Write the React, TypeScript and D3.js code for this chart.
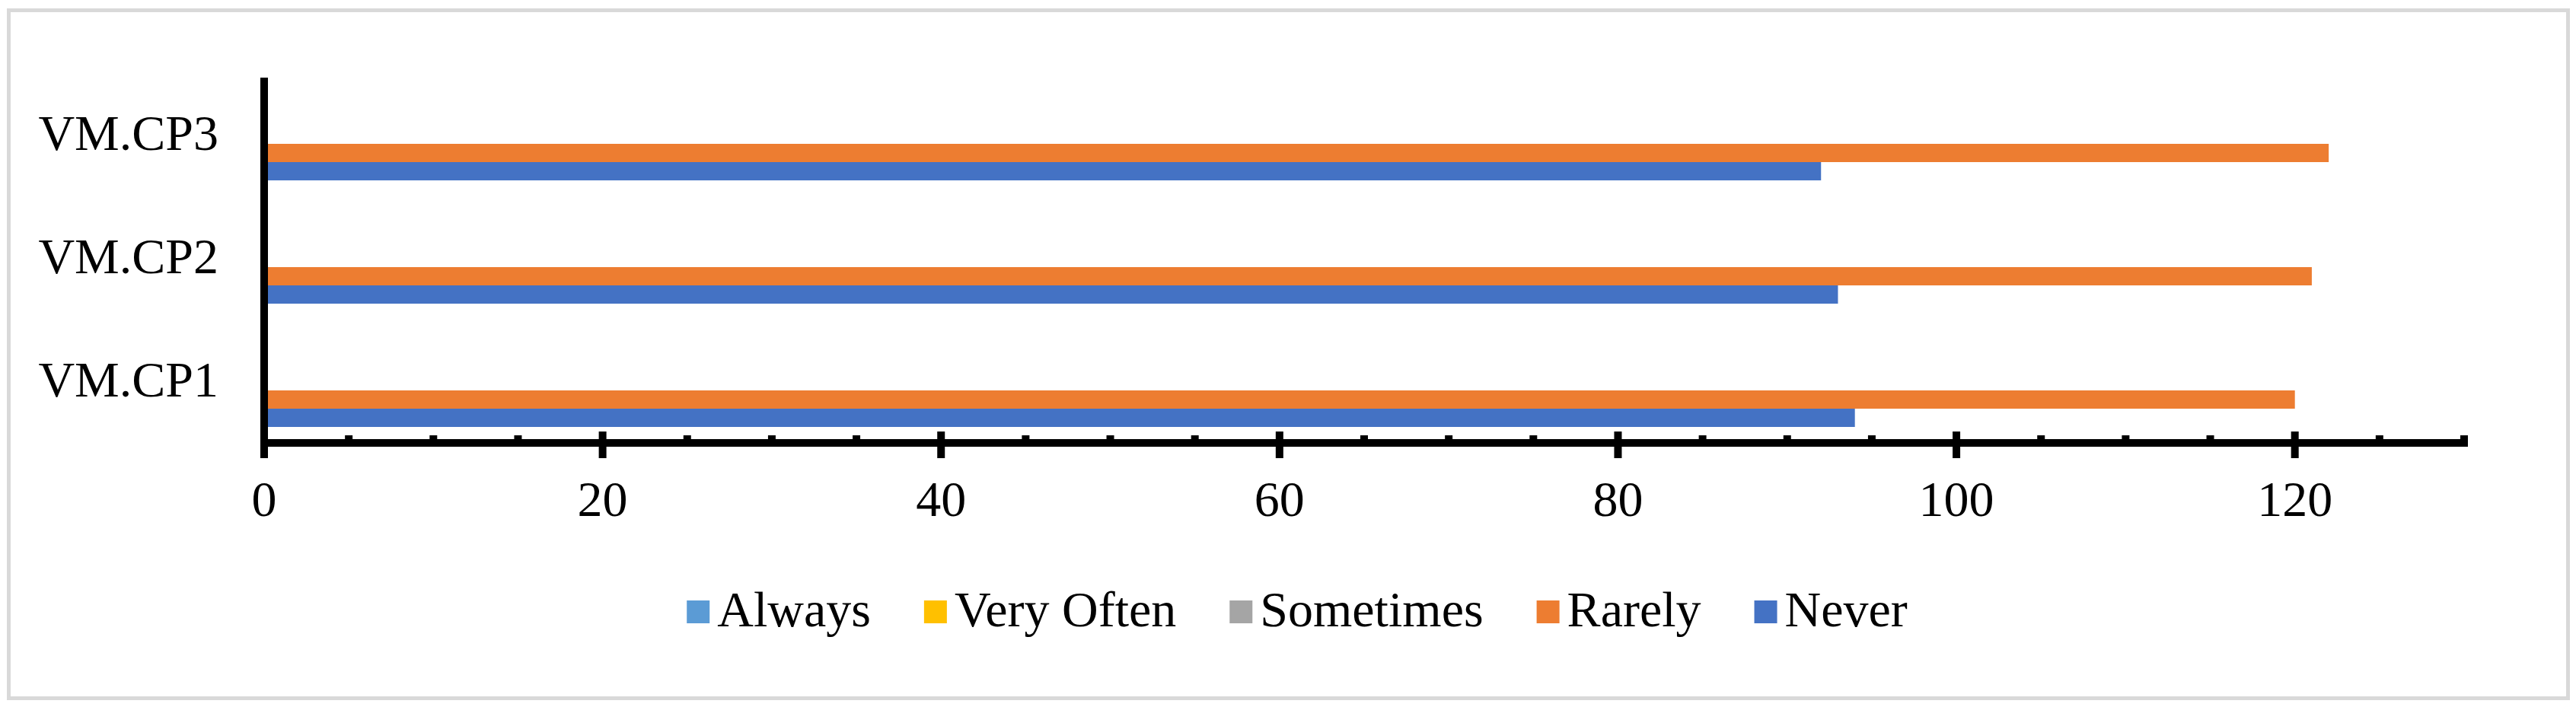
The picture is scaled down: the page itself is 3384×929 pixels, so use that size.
import React, { useEffect, useRef } from "react";
import * as d3 from "d3";

const categories = ["VM.CP1", "VM.CP2", "VM.CP3"];
const never = [94, 93, 92];
const rarely = [120, 121, 122];
const sometimes = [0, 0, 0];
const veryOften = [0, 0, 0];
const always = [0, 0, 0];
const seriesNames = ["Always", "Very Often", "Sometimes", "Rarely", "Never"];
const seriesColors = ["#5b9bd5", "#ffc000", "#a5a5a5", "#ed7d31", "#4472c4"];
const xTicks = [0, 20, 40, 60, 80, 100, 120];
const xMax = 130;

const W = 3384;
const H = 929;
const FONT = "'Liberation Serif', 'Times New Roman', serif";

export default function App() {
  const ref = useRef<SVGSVGElement | null>(null);

  useEffect(() => {
    document.body.style.margin = "0";
    const svg = d3.select(ref.current);
    svg.selectAll("*").remove();

    const values: Record<string, number[]> = {
      Always: always,
      "Very Often": veryOften,
      Sometimes: sometimes,
      Rarely: rarely,
      Never: never,
    };
    const color = d3.scaleOrdinal<string, string>().domain(seriesNames).range(seriesColors);

    const plotTop = 96,
      plotBottom = 582,
      plotLeft = 347;

    const x = d3.scaleLinear().domain([0, xMax]).range([plotLeft, 3237]);
    const y = d3
      .scaleBand<string>()
      .domain(categories.slice().reverse())
      .range([plotTop, plotBottom])
      .padding(0);
    const inner = d3
      .scaleBand<string>()
      .domain(seriesNames)
      .range([0, y.bandwidth()])
      .paddingInner(0)
      .paddingOuter(0.875);

    // chart border
    svg
      .append("rect")
      .attr("x", 11.5)
      .attr("y", 13.5)
      .attr("width", 3362)
      .attr("height", 904)
      .attr("fill", "#fff")
      .attr("stroke", "#d9d9d9")
      .attr("stroke-width", 5);

    // bars
    const rows = categories.flatMap((c, i) =>
      seriesNames.map((s) => ({ cat: c, series: s, value: values[s][i] }))
    );
    svg
      .append("g")
      .selectAll("rect")
      .data(rows.filter((d) => d.value > 0))
      .enter()
      .append("rect")
      .attr("x", x(0))
      .attr("y", (d) => (y(d.cat) as number) + (inner(d.series) as number))
      .attr("width", (d) => x(d.value) - x(0))
      .attr("height", inner.bandwidth())
      .attr("fill", (d) => color(d.series));

    // x axis
    const axisY = plotBottom;
    const gx = svg.append("g");
    gx.append("line")
      .attr("x1", x(0) - 5)
      .attr("x2", x(xMax) + 5)
      .attr("y1", axisY)
      .attr("y2", axisY)
      .attr("stroke", "#000")
      .attr("stroke-width", 10);
    const minor = d3.range(0, xMax + 1, 5).filter((v) => v % 20 !== 0);
    gx.selectAll("line.minor")
      .data(minor)
      .enter()
      .append("line")
      .attr("class", "minor")
      .attr("x1", (d) => x(d))
      .attr("x2", (d) => x(d))
      .attr("y1", axisY - 10)
      .attr("y2", axisY)
      .attr("stroke", "#000")
      .attr("stroke-width", 10);
    gx.selectAll("line.major")
      .data(xTicks)
      .enter()
      .append("line")
      .attr("class", "major")
      .attr("x1", (d) => x(d))
      .attr("x2", (d) => x(d))
      .attr("y1", axisY - 15)
      .attr("y2", axisY + 20)
      .attr("stroke", "#000")
      .attr("stroke-width", 10);
    gx.selectAll("text")
      .data(xTicks)
      .enter()
      .append("text")
      .attr("x", (d) => x(d))
      .attr("y", 678)
      .attr("text-anchor", "middle")
      .attr("font-family", FONT)
      .attr("font-size", 66)
      .attr("fill", "#000")
      .text((d) => String(d));

    // y axis
    const gy = svg.append("g");
    gy.append("line")
      .attr("x1", plotLeft)
      .attr("x2", plotLeft)
      .attr("y1", 102)
      .attr("y2", 602)
      .attr("stroke", "#000")
      .attr("stroke-width", 10);
    gy.selectAll("text")
      .data(categories)
      .enter()
      .append("text")
      .attr("x", 287)
      .attr("y", (d) => (y(d) as number) + y.bandwidth() / 2 + 20)
      .attr("text-anchor", "end")
      .attr("font-family", FONT)
      .attr("font-size", 66)
      .attr("fill", "#000")
      .text((d) => d);

    // legend
    const legend = svg.append("g");
    const items = legend
      .selectAll("g")
      .data(seriesNames)
      .enter()
      .append("g");
    items
      .append("rect")
      .attr("x", 0)
      .attr("y", 789)
      .attr("width", 30)
      .attr("height", 30)
      .attr("fill", (d) => color(d));
    items
      .append("text")
      .attr("x", 40)
      .attr("y", 823)
      .attr("font-family", FONT)
      .attr("font-size", 66)
      .attr("fill", "#000")
      .text((d) => d);

    const gap = 70;
    const widths: number[] = [];
    items.each(function () {
      const t = d3.select(this).select("text").node() as SVGTextElement;
      widths.push(40 + t.getComputedTextLength());
    });
    const total = d3.sum(widths) + gap * (widths.length - 1);
    let cx = 1704 - total / 2;
    items.attr("transform", (d, i) => {
      const tx = cx;
      cx += widths[i] + gap;
      return `translate(${tx},0)`;
    });
  }, []);

  return <svg ref={ref} width={W} height={H} style={{ display: "block" }} />;
}
